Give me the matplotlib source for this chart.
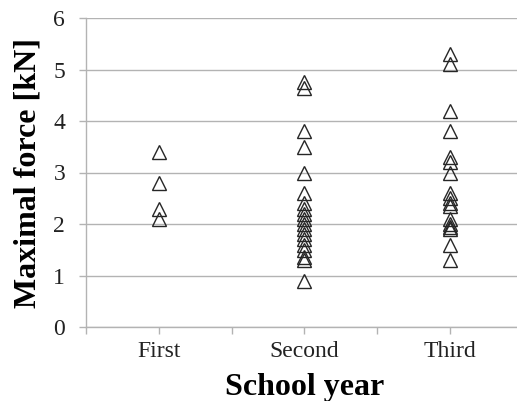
import matplotlib
matplotlib.use("Agg")
import matplotlib.pyplot as plt

categories = ["First", "Second", "Third"]
first_year = [3.4, 2.8, 2.3, 2.1]
second_year = [4.75, 4.65, 3.8, 3.5, 3.0, 2.6, 2.4, 2.3, 2.2, 2.1, 2.0, 1.9,
               1.8, 1.7, 1.6, 1.5, 1.35, 1.3, 0.9]
third_year = [5.3, 5.1, 4.2, 3.8, 3.3, 3.2, 3.0, 2.6, 2.5, 2.4, 2.35, 2.1,
              2.0, 1.95, 1.9, 1.6, 1.3]
y_ticks = [0, 1, 2, 3, 4, 5, 6]

plt.rcParams["font.family"] = ["Liberation Serif", "DejaVu Serif"]

fig = plt.figure(figsize=(5.17, 4.01), dpi=100)
ax = fig.add_axes([86 / 517, 1 - 327 / 401, (522.5 - 86) / 517, (327 - 18) / 401])

grid_color = "#b3b3b3"
for i, vals in enumerate([first_year, second_year, third_year], start=1):
    ax.plot([i] * len(vals), vals, linestyle="none", marker="^", ms=10,
            mfc="none", mec="#262626", mew=1.0, zorder=3, clip_on=False)

ax.set_xlim(0.5, 3.5)
ax.set_ylim(0, 6)
ax.set_yticks(y_ticks)
ax.set_xticks([1, 2, 3], labels=categories)
ax.set_xticks([0.5, 1.5, 2.5, 3.5], minor=True)
ax.yaxis.grid(True, color=grid_color, linewidth=1.0)
ax.set_axisbelow(True)

for side in ["top", "right"]:
    ax.spines[side].set_visible(False)
for side in ["left", "bottom"]:
    ax.spines[side].set_color(grid_color)
    ax.spines[side].set_linewidth(1.0)

ax.tick_params(axis="both", which="both", color=grid_color, length=5, width=1.0,
               labelsize=17, labelcolor="#222222")
ax.tick_params(axis="x", which="both", pad=5)
ax.tick_params(axis="y", pad=10)

ax.set_xlabel("School year", fontsize=23, fontweight="bold", labelpad=8)
ax.set_ylabel("Maximal force [kN]", fontsize=23, fontweight="bold", labelpad=8)

fig.savefig("out.png", dpi=100)
